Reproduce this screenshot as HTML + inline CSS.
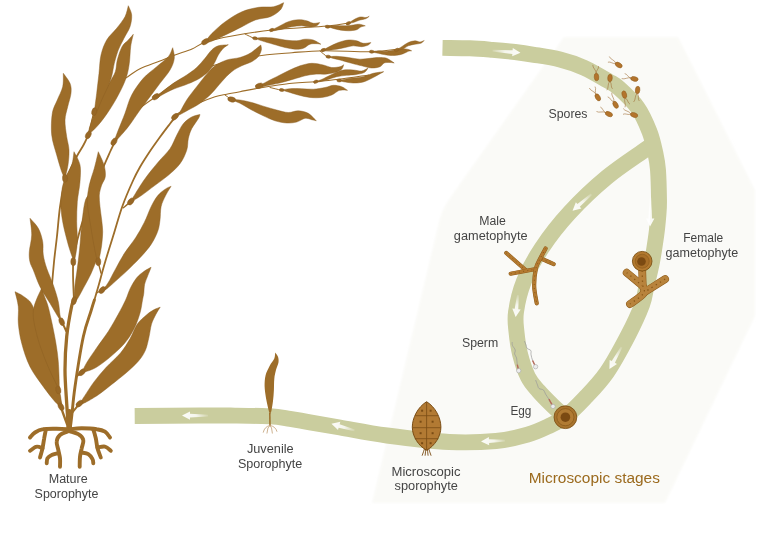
<!DOCTYPE html>
<html lang="en">
<head>
<meta charset="utf-8">
<title>Kelp life cycle</title>
<style>
html,body{margin:0;padding:0;background:#ffffff;}
body{width:768px;height:540px;overflow:hidden;}
svg{display:block;}
text{font-family:"Liberation Sans",sans-serif;}
</style>
</head>
<body>
<svg width="768" height="540" viewBox="0 0 768 540">
<rect width="768" height="540" fill="#ffffff"/>
<defs><filter id="soft" x="-5%" y="-5%" width="110%" height="110%"><feGaussianBlur stdDeviation="0.9"/></filter><filter id="soft2" x="-5%" y="-5%" width="110%" height="110%"><feGaussianBlur stdDeviation="0.7"/></filter></defs>
<path d="M564 37 L678 37 L755 190 L755 316 L665 503 L372 503 L439 222 Q442 209 450 198 Z" fill="#fafaf7" filter="url(#soft)"/>
<g fill="none" stroke="#cacd9e" stroke-width="15.9" stroke-linecap="butt" stroke-linejoin="round" filter="url(#soft2)">
<path d="M655 142C653.5 143.2 654.3 143 646.3 148.9C638.2 154.8 619.5 166.8 606.7 177.4C593.9 188 580.4 200.9 569.6 212.6C558.8 224.3 549.5 236.4 541.9 247.8C534.3 259.2 528.3 270.4 524 281.1C519.7 291.8 517.2 303.5 516 312C514.8 320.5 515.8 325 516.5 332C517.2 339 518.1 346.5 520 354C521.9 361.5 524.9 370.8 528 377C531.1 383.2 534.5 386.3 538.5 391C542.5 395.7 547.6 400.7 552 405C556.4 409.3 562.8 415 565 417"/>
<path d="M442.5 47.9C447.1 48 461.7 48 470 48.3C478.3 48.6 485 49.2 492.5 49.8C500 50.4 508.1 51.2 515 52C521.9 52.8 526.5 53.5 534 54.8C541.5 56 551.7 57.4 560 59.5C568.3 61.6 576 64.1 584 67.7C592 71.3 602.4 77.6 608.2 81C614 84.4 614.1 83.8 619 88.2C623.9 92.6 632.4 100.3 637.5 107.5C642.6 114.7 646.5 124 649.5 131.6C652.5 139.2 654 146.9 655.4 153.3C656.8 159.7 657.4 162.2 658 170C658.6 177.8 658.9 192.5 659 200C659.1 207.5 658.9 209.2 658.4 215C657.9 220.8 657.4 227.2 656.3 235C655.2 242.8 653.6 253.5 652 262C650.4 270.5 648.2 278.8 646.5 286C644.8 293.2 645.1 296.8 642 305C638.9 313.2 633.9 324.2 628 335.5C622.1 346.8 614 362.1 606.7 372.6C599.4 383.1 591.4 391.1 584.4 398.5C577.4 405.9 570.7 412.5 565 417C559.3 421.5 556.2 422.6 550 425.5C543.8 428.4 536.5 432.1 527.5 434.7C518.5 437.3 509.1 439.8 496 441C482.9 442.2 467.2 442.9 449 442C430.8 441.1 405.2 437.9 387 435.5C368.8 433.1 352.8 429.7 340 427.5C327.2 425.3 318.3 423.8 310 422.3C301.7 420.9 296.7 419.8 290 418.8C283.3 417.8 279.2 416.8 270 416.3C260.8 415.8 246.7 415.7 235 415.6C223.3 415.5 216.7 415.4 200 415.5C183.3 415.6 145.6 415.9 134.7 416"/>
</g>
<defs><linearGradient id="ag" x1="0" y1="0" x2="1" y2="0"><stop offset="0" stop-color="#fff" stop-opacity="0.15"/><stop offset="0.45" stop-color="#fff" stop-opacity="0.85"/><stop offset="1" stop-color="#fff" stop-opacity="1"/></linearGradient></defs>
<path d="M-14 -0.9 L6 -1.8 L6 -4.2 L14 0 L6 4.2 L6 1.8 L-14 0.9 Z" fill="url(#ag)" fill-opacity="0.95" transform="translate(506.5 51.7) rotate(4)"/>
<path d="M-12.5 -0.9 L4.5 -1.8 L4.5 -4.2 L12.5 0 L4.5 4.2 L4.5 1.8 L-12.5 0.9 Z" fill="url(#ag)" fill-opacity="0.95" transform="translate(582 202.5) rotate(139)"/>
<path d="M-14.5 -0.9 L6.5 -1.8 L6.5 -4.2 L14.5 0 L6.5 4.2 L6.5 1.8 L-14.5 0.9 Z" fill="url(#ag)" fill-opacity="0.95" transform="translate(650.3 212) rotate(91)"/>
<path d="M-12.5 -0.9 L4.5 -1.8 L4.5 -4.2 L12.5 0 L4.5 4.2 L4.5 1.8 L-12.5 0.9 Z" fill="url(#ag)" fill-opacity="0.95" transform="translate(615.5 358) rotate(119)"/>
<path d="M-11 -0.9 L3 -1.8 L3 -4.2 L11 0 L3 4.2 L3 1.8 L-11 0.9 Z" fill="url(#ag)" fill-opacity="0.95" transform="translate(516.8 306) rotate(96)"/>
<path d="M-12 -0.9 L4 -1.8 L4 -4.2 L12 0 L4 4.2 L4 1.8 L-12 0.9 Z" fill="url(#ag)" fill-opacity="0.95" transform="translate(493 441) rotate(178)"/>
<path d="M-12 -0.9 L4 -1.8 L4 -4.2 L12 0 L4 4.2 L4 1.8 L-12 0.9 Z" fill="url(#ag)" fill-opacity="0.95" transform="translate(343 427) rotate(196)"/>
<path d="M-13 -0.9 L5 -1.8 L5 -4.2 L13 0 L5 4.2 L5 1.8 L-13 0.9 Z" fill="url(#ag)" fill-opacity="0.95" transform="translate(195 415.6) rotate(180)"/>
<g id="kelp">
<path d="M52 285C52.3 281.2 53.2 270.2 54 262C54.8 253.8 56 245.2 57 236C58 226.8 58.8 215.3 60 207C61.2 198.7 62.3 192.2 64 186C65.7 179.8 67.8 175 70 170C72.2 165 74.8 160.2 77 156C79.2 151.8 81.6 148.5 83.5 145C85.4 141.5 87.5 136.7 88.3 135" fill="none" stroke="#9d6d29" stroke-width="1.8" stroke-linecap="round" stroke-linejoin="round"/>
<path d="M88.3 135C88.8 133.2 90 127.9 91 124C92 120.1 92.1 116.4 94.3 111.7C96.5 107 100.4 100.5 104 96C107.6 91.5 111.9 88.3 116 85C120.1 81.7 124.8 78.7 128.8 76C132.8 73.3 134.8 71.3 140 68.8C145.2 66.3 154.2 63.3 160 61C165.8 58.7 169.7 57 175 55C180.3 53 186.9 51.2 192 49C197.1 46.8 198.8 44.2 205.5 42C212.2 39.8 220.9 38 232 36C243.1 34 256.2 31.7 272 30C287.8 28.3 314.2 27.2 327 26C339.8 24.8 345.3 23.5 349 23" fill="none" stroke="#9d6d29" stroke-width="1.1" stroke-linecap="round" stroke-linejoin="round"/>
<path d="M74 301.7C73.9 295 72.3 273.6 73.3 261.7C74.3 249.8 77.2 240.3 80 230C82.8 219.7 86.2 210.3 90 200C93.8 189.7 99.7 176 103 168C106.3 160 108 156.4 110 152C112 147.6 114.2 143.4 115 141.7" fill="none" stroke="#9d6d29" stroke-width="1.8" stroke-linecap="round" stroke-linejoin="round"/>
<path d="M115 141.7C117.2 138.4 123.8 127.6 128 122C132.2 116.4 135.4 112.5 140 108.3C144.6 104.1 149.1 101.4 155.8 96.7C162.5 92 170.1 85.3 180 80C189.9 74.7 203 68.9 215 65C227 61.1 239.2 58.8 252 56.7C264.8 54.7 280.1 53.7 292 52.7C303.9 51.7 310.4 50.9 323.7 50.7C337 50.5 359.5 52 372 51.7C384.5 51.4 394.2 49.5 398.7 49" fill="none" stroke="#9d6d29" stroke-width="1.1" stroke-linecap="round" stroke-linejoin="round"/>
<path d="M94.4 300C95.2 297.4 97.2 290.3 98.9 284.4C100.6 278.5 102 272.5 104.4 264.4C106.8 256.3 110.3 245.2 113.3 235.6C116.3 226 118.9 216 122.2 206.7C125.5 197.4 130.3 186.6 133.3 180C136.3 173.4 137.5 171.4 140 167C142.5 162.6 145 158.7 148.3 153.7C151.6 148.7 156.4 142 160 137C163.6 132 167.4 127.1 170 123.7C172.6 120.3 174.8 117.9 175.7 116.7" fill="none" stroke="#9d6d29" stroke-width="1.8" stroke-linecap="round" stroke-linejoin="round"/>
<path d="M175.7 116.7C176.1 116.1 174.5 115.5 178.3 113.3C182.1 111.1 192.2 106.1 198.3 103.3C204.4 100.5 210.3 98.2 215 96.7C219.7 95.2 222.5 95 226.7 94.2C230.9 93.4 235 92.7 240 91.7C245 90.8 248 89.9 256.7 88.5C265.4 87.1 282.2 84.4 292 83.3C301.8 82.2 307.5 82.4 315.3 81.7C323.1 81 329.8 80.4 338.7 79.3C347.6 78.2 363.7 75.7 368.7 75" fill="none" stroke="#9d6d29" stroke-width="1.1" stroke-linecap="round" stroke-linejoin="round"/>
<path d="M123.3 207.8C124.5 206.8 129.6 202.6 130.8 201.5" fill="none" stroke="#9d6d29" stroke-width="1.4" stroke-linecap="round" stroke-linejoin="round"/>
<path d="M101 273C100.5 271.2 98.7 264 98.2 262.2" fill="none" stroke="#9d6d29" stroke-width="1.4" stroke-linecap="round" stroke-linejoin="round"/>
<path d="M96.5 293C97.5 292.5 101.2 290.5 102.2 290" fill="none" stroke="#9d6d29" stroke-width="1.4" stroke-linecap="round" stroke-linejoin="round"/>
<path d="M225 95C226 95.7 229.8 98.5 230.8 99.2" fill="none" stroke="#9d6d29" stroke-width="1" stroke-linecap="round" stroke-linejoin="round"/>
<path d="M270 87.5C271.7 87.9 278.6 89.6 280.3 90" fill="none" stroke="#9d6d29" stroke-width="1" stroke-linecap="round" stroke-linejoin="round"/>
<path d="M245 34C246.4 34.7 252.2 37.6 253.7 38.3" fill="none" stroke="#9d6d29" stroke-width="1" stroke-linecap="round" stroke-linejoin="round"/>
<path d="M320 51C321.2 52 325.8 55.8 327 56.7" fill="none" stroke="#9d6d29" stroke-width="1" stroke-linecap="round" stroke-linejoin="round"/>
<path d="M258.7 86C258.2 86.4 256.4 88.1 256 88.5" fill="none" stroke="#9d6d29" stroke-width="1" stroke-linecap="round" stroke-linejoin="round"/>
<path d="M68.5 430C68.2 425.6 67.3 413.3 66.7 403.3C66.1 393.3 65 381.1 65 370C65 358.9 65.6 347.4 66.7 336.7C67.8 326 70.5 311.8 71.7 306C72.9 300.2 73.6 302.4 74 301.7" fill="none" stroke="#9d6d29" stroke-width="3.3" stroke-linecap="round" stroke-linejoin="round"/>
<path d="M70 430C70.3 427.8 70.9 423.9 71.7 416.7C72.5 409.5 73.1 400 75 386.7C76.9 373.4 80.6 349.3 83.3 336.7C86 324.1 89.2 317.1 91 311C92.8 304.9 93.8 301.8 94.4 300" fill="none" stroke="#9d6d29" stroke-width="2.9" stroke-linecap="round" stroke-linejoin="round"/>
<path d="M67 424C66 421.1 62.5 412.4 61 406.7C59.5 401 58.8 392.8 58.3 390" fill="none" stroke="#9d6d29" stroke-width="2.4" stroke-linecap="round" stroke-linejoin="round"/>
<path d="M77 376C77.8 375.4 81.1 372.9 81.9 372.3" fill="none" stroke="#9d6d29" stroke-width="2" stroke-linecap="round" stroke-linejoin="round"/>
<path d="M71 414C72.4 412.3 78.1 405.3 79.5 403.6" fill="none" stroke="#9d6d29" stroke-width="2" stroke-linecap="round" stroke-linejoin="round"/>
<path d="M66.2 331C65.5 329.4 62.5 323.2 61.7 321.7" fill="none" stroke="#9d6d29" stroke-width="2" stroke-linecap="round" stroke-linejoin="round"/>
<path d="M69.2 411.7C69.2 414.7 69.2 426.9 69.2 430" fill="none" stroke="#9d6d29" stroke-width="5.5" stroke-linecap="round" stroke-linejoin="round"/>
<path d="M68.3 429.2C66.4 429.1 60.8 428.7 56.7 428.7C52.5 428.7 46.9 428.5 43.3 429.2C39.7 429.8 37.2 431.1 35 432.5C32.8 433.9 30.8 436.7 30 437.5" fill="none" stroke="#9d6d29" stroke-width="3.9" stroke-linecap="round" stroke-linejoin="round"/>
<path d="M45.8 429.7C45.6 431.1 44.7 435.2 44.2 438.3C43.6 441.4 43.2 445.1 42.5 448.3C41.8 451.5 40.4 456 40 457.5" fill="none" stroke="#9d6d29" stroke-width="3.9" stroke-linecap="round" stroke-linejoin="round"/>
<path d="M42.5 448.3C41.5 448.1 38.8 446.2 36.7 446.7C34.6 447.1 31.1 450.1 30 450.8" fill="none" stroke="#9d6d29" stroke-width="3.9" stroke-linecap="round" stroke-linejoin="round"/>
<path d="M68.3 431.3C66.9 431.9 61.9 433.3 60 435C58.1 436.7 56.9 439.2 56.7 441.7C56.4 444.2 57.8 447.2 58.3 450C58.9 452.8 59.7 455.6 60 458.3C60.3 461.1 60 465.3 60 466.7" fill="none" stroke="#9d6d29" stroke-width="3.9" stroke-linecap="round" stroke-linejoin="round"/>
<path d="M57.5 453.3C56.5 453.6 53.3 454.2 51.7 455C50 455.8 48.3 456.9 47.5 458.3C46.7 459.7 46.8 462.5 46.7 463.3" fill="none" stroke="#9d6d29" stroke-width="3.9" stroke-linecap="round" stroke-linejoin="round"/>
<path d="M70 431.3C71.4 431.8 76.1 432.7 78.3 434.2C80.6 435.6 82.8 437.6 83.3 440C83.9 442.4 82.2 445.6 81.7 448.3C81.1 451.1 80.3 453.6 80 456.7C79.7 459.7 79.7 465 79.7 466.7" fill="none" stroke="#9d6d29" stroke-width="3.9" stroke-linecap="round" stroke-linejoin="round"/>
<path d="M81.7 452.5C82.8 452.8 86.5 453.1 88.3 454.2C90.1 455.3 91.7 457.6 92.5 459.2C93.3 460.7 93.2 462.6 93.3 463.3" fill="none" stroke="#9d6d29" stroke-width="3.9" stroke-linecap="round" stroke-linejoin="round"/>
<path d="M70 429.2C71.9 429 77.2 428.3 81.7 428.3C86.1 428.3 92.8 428.6 96.7 429.2C100.6 429.7 102.8 430.3 105 431.7C107.2 433.1 109.2 436.5 110 437.5" fill="none" stroke="#9d6d29" stroke-width="3.9" stroke-linecap="round" stroke-linejoin="round"/>
<path d="M93.3 429.7C93.8 431.1 95.1 435.2 95.8 438.3C96.5 441.4 96.7 445.1 97.5 448.3C98.3 451.5 100.3 456 100.8 457.5" fill="none" stroke="#9d6d29" stroke-width="3.9" stroke-linecap="round" stroke-linejoin="round"/>
<path d="M97.5 447.5C98.8 447.4 102.8 446.1 105 446.7C107.2 447.2 109.9 450.1 110.8 450.8" fill="none" stroke="#9d6d29" stroke-width="3.9" stroke-linecap="round" stroke-linejoin="round"/>
<path d="M61 406.7C60 405.8 57.9 405 55 401.7C52.1 398.3 47.5 392.5 43.3 386.7C39.2 380.8 33.6 373.9 30 366.7C26.4 359.4 23.6 350.6 21.7 343.3C19.7 336.1 18.9 329.4 18.3 323.3C17.8 317.2 18.9 311.9 18.3 306.7C17.8 301.4 15.6 294.2 15 291.7C16.5 292.5 21.1 294.3 24 296.7C26.9 299.1 29.9 299.9 32.7 306C35.4 312.1 37.8 323.8 40.7 333.3C43.6 342.9 47.1 354.4 50 363.3C52.9 372.2 56.4 380 58.3 386.7C60.3 393.3 61.2 400 61.7 403.3C62.1 406.7 61.1 406.1 61 406.7Z" fill="#9d6d29" stroke="#8a5f22" stroke-width="0.45" stroke-linejoin="round"/>
<path d="M58.3 390C58.1 389.2 58.6 389.4 56.7 385C54.7 380.6 49.9 371.4 46.7 363.3C43.4 355.3 39.6 345.4 37.3 336.7C35.1 327.9 32.6 318.9 33.3 310.7C34.1 302.4 40.6 291.2 42 287.3C42.3 288.6 43.1 292.1 44 295C44.9 297.9 46.4 300.8 47.7 305C48.9 309.2 50 313.8 51.3 320C52.7 326.2 54.5 335.1 55.7 342C56.8 348.9 57.7 354.2 58.3 361.7C58.9 369.1 59.3 381.9 59.3 386.7C59.3 391.4 58.5 389.4 58.3 390Z" fill="#9d6d29" stroke="#8a5f22" stroke-width="0.45" stroke-linejoin="round"/>
<path d="M61.7 321.7C61.4 321.4 62 323.1 60 320C58 316.9 53.3 308.9 50 303.3C46.7 297.8 42.8 292.2 40 286.7C37.2 281.1 35 274.1 33.3 270C31.6 265.9 30.7 265.1 30 262C29.3 258.9 29 256.2 29.3 251.7C29.6 247.2 31.6 240.6 31.7 235C31.8 229.4 30.3 221.1 30 218.3C31.4 220 36.2 224.4 38.3 228.3C40.4 232.2 41.9 237.2 42.7 241.7C43.5 246.1 42.6 250.6 43.3 255C44 259.4 45 263.3 46.7 268.3C48.4 273.3 51.4 279.4 53.3 285C55.2 290.6 57.2 296.7 58.3 301.7C59.4 306.7 59.4 311.7 60 315C60.6 318.3 61.4 320.6 61.7 321.7Z" fill="#9d6d29" stroke="#8a5f22" stroke-width="0.45" stroke-linejoin="round"/>
<path d="M65 178.3C64.5 177.2 63.1 175.6 61.7 171.7C60.3 167.8 58.4 161.1 56.7 155C55 148.9 52.4 141.9 51.7 135C51 128.1 51.4 119.1 52.3 113.3C53.2 107.5 55.6 104.4 57.3 100C59 95.6 61.7 91.2 62.7 86.7C63.7 82.2 63.2 75.5 63.3 73.3C64.4 75 68.7 80 70 83.3C71.3 86.6 71.4 89.4 71 93.3C70.6 97.2 68.7 102.2 67.7 106.7C66.7 111.2 65.2 115 65 120C64.8 125 66 131.7 66.7 136.7C67.4 141.7 68.8 145.3 69 150C69.2 154.7 68.7 160.3 68 165C67.3 169.7 65.5 176.1 65 178.3Z" fill="#9d6d29" stroke="#8a5f22" stroke-width="0.45" stroke-linejoin="round"/>
<path d="M73.3 261.7C73.2 261.1 73.5 261.1 72.7 258.3C71.8 255.6 69.9 250.6 68.3 245C66.8 239.4 64.6 231.1 63.3 225C62.1 218.9 61.3 213.9 61 208.3C60.7 202.8 61 196.7 61.7 191.7C62.3 186.7 63.3 182.8 65 178.3C66.7 173.9 70.2 169.4 71.7 165C73.2 160.6 73.6 153.9 74 151.7C75 153.9 79 160 80 165C81 170 80.4 175.6 80 181.7C79.6 187.8 77.9 195 77.3 201.7C76.8 208.3 76.7 215 76.7 221.7C76.7 228.3 77.6 235.6 77.3 241.7C77.1 247.8 75.7 255 75 258.3C74.3 261.7 73.6 261.1 73.3 261.7Z" fill="#9d6d29" stroke="#8a5f22" stroke-width="0.45" stroke-linejoin="round"/>
<path d="M74 300.7C74.2 298.1 74.4 290.4 75 285C75.6 279.6 76.5 275 77.3 268.3C78.2 261.7 79.3 252.2 80 245C80.7 237.8 80.8 232.2 81.7 225C82.5 217.8 83.6 206.9 85 201.7C86.4 196.4 89.2 194.7 90 193.3C90.8 195.8 93.3 199.7 95 208.3C96.7 216.9 100.3 235 100 245C99.7 255 96.1 261.1 93.3 268.3C90.6 275.6 86.1 283.1 83.3 288.3C80.6 293.6 78.2 297.9 76.7 300C75.1 302.1 74.4 300.6 74 300.7Z" fill="#9d6d29" stroke="#8a5f22" stroke-width="0.45" stroke-linejoin="round"/>
<path d="M98.3 261.7C98.1 261.1 97.5 261.7 96.7 258.3C95.8 255 94.4 247.8 93.3 241.7C92.2 235.6 91 228.3 90 221.7C89 215 87.4 207.8 87.3 201.7C87.2 195.6 88.2 190.6 89.3 185C90.5 179.4 92.8 173.9 94.3 168.3C95.8 162.8 97.7 154.4 98.3 151.7C99.3 153.9 102.8 160.8 104 165C105.2 169.2 105.7 173.3 105.3 176.7C104.9 180 102.7 181.9 101.7 185C100.7 188.1 99.6 191.4 99.3 195C99.1 198.6 99.6 202.5 100 206.7C100.4 210.8 101.2 215.8 101.7 220C102.1 224.2 102.7 227.5 102.7 231.7C102.7 235.8 102.2 240.6 101.7 245C101.1 249.4 99.9 255.6 99.3 258.3C98.8 261.1 98.5 261.1 98.3 261.7Z" fill="#9d6d29" stroke="#8a5f22" stroke-width="0.45" stroke-linejoin="round"/>
<path d="M102.2 290C103.1 288.9 105.6 286.9 107.8 283.3C110 279.8 112.8 273.9 115.6 268.9C118.3 263.9 121.1 258.5 124.4 253.3C127.8 248.1 132.2 243 135.6 237.8C138.9 232.6 141.9 227.4 144.4 222.2C147 217 148.9 211.1 151.1 206.7C153.3 202.2 155.4 198.5 157.8 195.6C160.2 192.6 163.3 190.4 165.6 188.9C167.8 187.3 170.2 186.7 171.1 186.2C170.2 187.8 167.2 192.1 165.6 195.6C163.9 199 162 202.6 161.1 206.7C160.2 210.7 160.6 215.9 160 220C159.4 224.1 159.3 227 157.8 231.1C156.3 235.2 154.1 240 151.1 244.4C148.1 248.9 144.1 253.3 140 257.8C135.9 262.2 130.7 267.2 126.7 271.1C122.6 275 118.9 278.1 115.6 281.1C112.2 284.1 108.9 287.4 106.7 288.9C104.4 290.4 103 289.8 102.2 290Z" fill="#9d6d29" stroke="#8a5f22" stroke-width="0.45" stroke-linejoin="round"/>
<path d="M81.9 372.3C82.7 370.7 84.3 366.7 86.7 362.7C89.1 358.7 92.8 353.4 96.4 348.2C100 343 104.8 336.9 108.4 331.3C112 325.7 115.2 319.7 118.1 314.5C121 309.3 123.6 304.3 125.6 300C127.6 295.7 128.2 292.6 130 288.9C131.8 285.2 134.3 280.8 136.7 277.8C139.1 274.8 142 272.9 144.4 271.1C146.8 269.4 150 267.9 151.1 267.3C150.6 268.7 148.9 272.8 147.8 275.6C146.7 278.5 145.3 281.4 144.6 284.4C143.9 287.3 144.2 290.7 143.8 293.3C143.5 295.9 143.1 296.7 142.5 300C141.9 303.3 141.4 308.2 140 313C138.6 317.8 136.7 323.8 134 329C131.3 334.2 128.2 339.2 124 344C119.8 348.8 113.7 354.1 109 358C104.3 361.9 99.9 365.2 96 367.5C92.1 369.8 87.8 371 85.5 371.8C83.2 372.6 82.5 372.2 81.9 372.3Z" fill="#9d6d29" stroke="#8a5f22" stroke-width="0.45" stroke-linejoin="round"/>
<path d="M79.5 403.6C80.3 402.4 81.9 400 84.3 396.4C86.7 392.8 90.4 386.7 94 381.9C97.6 377.1 101.6 372.3 106 367.5C110.4 362.7 116.5 357.8 120.5 353C124.5 348.2 127.3 343.4 130.1 338.6C132.9 333.8 134.5 328.1 137.3 324.1C140.1 320.1 144.2 316.9 147 314.5C149.8 312.1 152 310.8 154.2 309.6C156.4 308.4 159.2 307.6 160.2 307.2C159.5 308.4 157.2 311.7 155.8 314.5C154.4 317.3 152.6 320.4 151.5 324.1C150.4 327.9 150 332.7 149 337C148 341.3 147.2 346 145.5 350C143.8 354 141.8 357.2 138.5 361C135.2 364.8 130.6 369 126 373C121.4 377 115.7 381.3 111 385C106.3 388.7 102.5 392 98 395C93.5 398 87.4 401.6 84.3 403C81.2 404.4 80.3 403.5 79.5 403.6Z" fill="#9d6d29" stroke="#8a5f22" stroke-width="0.45" stroke-linejoin="round"/>
<path d="M88.3 135C88.5 133.9 88.3 131.9 89.3 128.3C90.3 124.7 92.3 118.6 94.3 113.3C96.4 108.1 99.1 101.9 101.7 96.7C104.3 91.4 107.7 85.8 110 81.7C112.3 77.5 114.1 75.3 115.3 71.7C116.6 68.1 116.2 64.2 117.3 60C118.4 55.8 120.2 50 122 46.7C123.8 43.3 126.4 42.1 128.3 40C130.2 37.9 132.5 35.3 133.3 34.3C132.9 36.4 131.3 41.8 130.7 46.7C130 51.5 130.1 58.1 129.3 63.3C128.6 68.6 127.8 73.1 126 78.3C124.2 83.6 121.3 89.4 118.3 95C115.4 100.6 111.7 106.7 108.3 111.7C105 116.7 101.4 121.4 98.3 125C95.3 128.6 91.7 131.7 90 133.3C88.3 135 88.6 134.7 88.3 135Z" fill="#9d6d29" stroke="#8a5f22" stroke-width="0.45" stroke-linejoin="round"/>
<path d="M94.3 111.7C94.7 108.6 95.9 99.7 96.7 93.3C97.4 86.9 98.3 79.7 99 73.3C99.7 66.9 99.7 60.6 101 55C102.3 49.4 104.1 44.4 106.7 40C109.3 35.6 113.6 32.2 116.7 28.3C119.7 24.4 123.1 20.4 125 16.7C126.9 12.9 127.8 7.5 128.3 5.7C128.9 7.2 131.4 11.5 131.7 15C131.9 18.5 131.3 22.8 130 26.7C128.7 30.6 125.9 34.4 124 38.3C122.1 42.2 119.9 45.8 118.3 50C116.7 54.2 115.4 59.2 114.3 63.3C113.3 67.5 112.9 71.4 112 75C111.1 78.6 110.4 80.8 108.7 85C106.9 89.2 103.7 95.6 101.7 100C99.7 104.4 97.9 109.7 96.7 111.7C95.4 113.6 94.7 111.7 94.3 111.7Z" fill="#9d6d29" stroke="#8a5f22" stroke-width="0.45" stroke-linejoin="round"/>
<path d="M114 141.7C114.7 139.7 116.5 134.7 118.3 130C120.2 125.3 122.8 119.2 125 113.3C127.2 107.5 128.6 100.8 131.7 95C134.7 89.2 139.2 83.1 143.3 78.3C147.5 73.6 152.5 70.3 156.7 66.7C160.8 63.1 165.7 59.8 168.3 56.7C171 53.5 171.9 49.2 172.7 47.7C172.9 49.4 174.8 54.6 174.3 58.3C173.9 62.1 172.4 65.8 170 70C167.6 74.2 163.3 78.9 160 83.3C156.7 87.8 153.3 92.2 150 96.7C146.7 101.1 143.6 105 140 110C136.4 115 132.2 121.7 128.3 126.7C124.4 131.7 119.1 137.5 116.7 140C114.3 142.5 114.4 141.4 114 141.7Z" fill="#9d6d29" stroke="#8a5f22" stroke-width="0.45" stroke-linejoin="round"/>
<path d="M155.8 96.7C156.8 96 158.8 94.7 161.7 92.5C164.6 90.3 169.2 86.3 173.3 83.3C177.5 80.4 182.8 77.6 186.7 75C190.6 72.4 193.6 70.3 196.7 67.5C199.7 64.7 202.5 61.2 205 58.3C207.5 55.4 209.4 52.1 211.7 50C213.9 47.9 215.6 46.7 218.3 45.8C221.1 44.9 226.7 44.9 228.3 44.7C227.5 45.3 225 46.6 223.3 48.3C221.7 50.1 220 52.2 218.3 55C216.7 57.8 215.3 61.9 213.3 65C211.4 68.1 209.4 70.8 206.7 73.3C203.9 75.8 200.3 78.1 196.7 80C193.1 81.9 188.9 83.5 185 85C181.1 86.5 176.9 87.6 173.3 89.2C169.7 90.7 166 92.8 163.3 94.2C160.7 95.6 158.8 97.1 157.5 97.5C156.2 97.9 156.1 96.8 155.8 96.7Z" fill="#9d6d29" stroke="#8a5f22" stroke-width="0.45" stroke-linejoin="round"/>
<path d="M175 116.7C175.8 115.8 178.1 114.4 180 111.7C181.9 108.9 183.9 104.2 186.7 100C189.4 95.8 193.3 91 196.7 86.7C200 82.4 203.6 77.6 206.7 74.2C209.7 70.7 211.7 68.2 215 65.8C218.3 63.5 222.5 61.4 226.7 60C230.8 58.6 236.1 58.6 240 57.5C243.9 56.4 247.2 54.9 250 53.3C252.8 51.8 254.9 49.7 256.7 48.3C258.5 46.9 260.1 45.6 260.8 45C260.9 45.8 261.8 48.1 261.3 50C260.9 51.9 259.9 54.7 258.3 56.7C256.7 58.6 254.4 60.1 251.7 61.7C248.9 63.2 245 64.2 241.7 65.8C238.3 67.5 235 69 231.7 71.7C228.3 74.3 225 78.1 221.7 81.7C218.3 85.3 215.3 89.7 211.7 93.3C208.1 96.9 203.9 100.6 200 103.3C196.1 106.1 191.8 108.1 188.3 110C184.9 111.9 181.4 113.9 179.2 115C176.9 116.1 175.7 116.4 175 116.7Z" fill="#9d6d29" stroke="#8a5f22" stroke-width="0.45" stroke-linejoin="round"/>
<path d="M130.8 201.5C131.2 200.8 130.9 200.8 133.3 197C135.7 193.2 140.8 184.5 145 178.7C149.2 172.9 154.1 167 158.3 162C162.5 157 166.9 153.1 170 148.7C173.1 144.2 174.5 139.5 176.7 135.3C178.9 131.1 180.8 126.8 183.3 123.7C185.8 120.7 188.9 118.5 191.7 117C194.5 115.5 198.6 114.9 200 114.5C199.7 115.2 199.7 116.3 198.3 118.7C196.9 121.1 193.4 125.4 191.7 128.7C190 132 189.1 135.1 188.3 138.7C187.5 142.3 188.1 146.1 186.7 150.3C185.3 154.5 183.1 159.5 180 163.7C176.9 167.9 172.5 171.7 168.3 175.3C164.1 178.9 159.4 182 155 185.3C150.6 188.6 145.3 192.8 141.7 195.3C138.1 197.8 135.1 199.5 133.3 200.5C131.5 201.5 131.2 201.3 130.8 201.5Z" fill="#9d6d29" stroke="#8a5f22" stroke-width="0.45" stroke-linejoin="round"/>
<path d="M205.3 41.7C206.4 40.3 208.7 36.7 212 33.3C215.3 30 220.3 25.3 225.3 21.7C230.3 18.1 236.4 14.1 242 11.7C247.6 9.3 253.4 8.2 258.7 7.3C263.9 6.5 269.5 7.4 273.7 6.7C277.8 5.9 282 3.3 283.7 2.7C283.1 3.9 282.6 7.7 280.3 10C278.1 12.3 274.5 15 270.3 16.7C266.2 18.3 260.1 18.3 255.3 20C250.6 21.7 247 24.2 242 26.7C237 29.2 230.6 32.5 225.3 35C220.1 37.5 213.7 40.6 210.3 41.7C207 42.8 206.2 41.7 205.3 41.7Z" fill="#9d6d29" stroke="#8a5f22" stroke-width="0.45" stroke-linejoin="round"/>
<path d="M271.7 30C272.8 29.4 275.6 28.1 278.3 26.7C281.1 25.3 285 22.8 288.3 21.7C291.7 20.5 295.3 19.8 298.3 19.7C301.4 19.5 304.2 20.2 306.7 20.8C309.2 21.4 311.2 23.1 313.3 23.3C315.5 23.6 318.6 22.6 319.7 22.5C319.2 23.1 318.3 25.1 316.7 25.8C315.1 26.6 312.5 27 310 27C307.5 27 304.7 25.9 301.7 25.8C298.6 25.8 295 26.1 291.7 26.7C288.3 27.2 284.7 28.5 281.7 29.2C278.6 29.9 275 30.7 273.3 30.8C271.7 31 271.9 30.1 271.7 30Z" fill="#9d6d29" stroke="#8a5f22" stroke-width="0.45" stroke-linejoin="round"/>
<path d="M327.5 26.7C328.8 26.5 332.1 25.6 335 25.5C337.9 25.4 341.9 25.9 345 25.8C348.1 25.8 351 25.3 353.3 25C355.7 24.7 357.2 24 359.2 24.2C361.2 24.3 364.3 25.6 365.3 25.8C364.6 26 362.3 26.4 360.8 27C359.4 27.6 358.8 29 356.7 29.7C354.6 30.3 351.4 30.8 348.3 30.8C345.3 30.8 341.2 30.2 338.3 29.7C335.4 29.1 332.6 28.2 330.8 27.7C329 27.2 328.1 26.8 327.5 26.7Z" fill="#9d6d29" stroke="#8a5f22" stroke-width="0.45" stroke-linejoin="round"/>
<path d="M348.3 23.3C349.2 22.8 351.4 21.1 353.3 20C355.3 18.9 357.9 17.4 360 17C362.1 16.6 364.3 17.6 365.8 17.5C367.4 17.4 368.6 16.5 369.2 16.3C368.6 16.7 367.4 18.1 365.8 18.7C364.3 19.3 362.1 19.4 360 20C357.9 20.6 355.3 21.9 353.3 22.5C351.4 23.1 349.2 23.2 348.3 23.3Z" fill="#9d6d29" stroke="#8a5f22" stroke-width="0.45" stroke-linejoin="round"/>
<path d="M255 38.3C256.1 38.2 258.6 37.6 261.7 37.5C264.7 37.4 269.4 37.6 273.3 38C277.2 38.4 281.1 39.5 285 40C288.9 40.5 293.3 41 296.7 40.8C300 40.7 302.2 39.3 305 39.2C307.8 39 310.7 39.2 313.3 40C316 40.8 319.6 43.5 320.8 44.2C320.1 44.1 318.5 43.7 316.7 43.7C314.9 43.7 312.2 43.4 310 44.2C307.8 44.9 305.8 47.5 303.3 48.3C300.8 49.2 298.1 49.3 295 49.2C291.9 49 288.6 48.3 285 47.5C281.4 46.7 277.2 45.3 273.3 44.2C269.4 43.1 264.7 41.8 261.7 40.8C258.6 39.9 256.1 38.8 255 38.3Z" fill="#9d6d29" stroke="#8a5f22" stroke-width="0.45" stroke-linejoin="round"/>
<path d="M323.3 50C324.4 49.4 327.5 47.6 330 46.3C332.5 45.1 335.3 43.6 338.3 42.5C341.4 41.4 345.3 40.3 348.3 40C351.4 39.7 354.2 40.3 356.7 40.8C359.2 41.4 361 43.1 363.3 43.3C365.7 43.6 369.6 42.6 370.8 42.5C370.4 42.9 369.9 44.3 368.3 45C366.8 45.7 364.2 46.5 361.7 46.7C359.2 46.8 356.1 45.7 353.3 45.8C350.6 46 347.8 46.9 345 47.5C342.2 48.1 339.7 48.7 336.7 49.2C333.6 49.6 328.9 50.2 326.7 50.3C324.4 50.5 323.9 50.1 323.3 50Z" fill="#9d6d29" stroke="#8a5f22" stroke-width="0.45" stroke-linejoin="round"/>
<path d="M371.7 51.7C372.8 51.5 375.8 50.9 378.3 50.8C380.8 50.8 383.9 51.5 386.7 51.3C389.4 51.2 392.5 50.4 395 50C397.5 49.6 399.6 48.8 401.7 48.7C403.8 48.5 405.8 48.8 407.5 49.2C409.2 49.5 411 50.6 411.7 50.8C411.1 50.9 409.7 50.9 408.3 51.3C406.9 51.8 405.3 53 403.3 53.7C401.4 54.3 399.2 55.1 396.7 55.3C394.2 55.6 391.1 55.6 388.3 55.3C385.6 55.1 382.4 54.1 380 53.7C377.6 53.2 375.6 52.8 374.2 52.5C372.8 52.2 372.1 51.8 371.7 51.7Z" fill="#9d6d29" stroke="#8a5f22" stroke-width="0.45" stroke-linejoin="round"/>
<path d="M396.7 50C397.5 49.4 399.7 47.9 401.7 46.7C403.6 45.4 406.1 43.5 408.3 42.5C410.6 41.5 413.1 40.9 415 40.8C416.9 40.7 418.5 42.1 420 42C421.5 41.9 423.5 40.8 424.2 40.5C423.6 41 422.4 42.7 420.8 43.3C419.3 43.9 417.1 43.8 415 44.2C412.9 44.6 410.4 45 408.3 45.8C406.2 46.7 404.4 48.5 402.5 49.2C400.6 49.9 397.6 49.9 396.7 50Z" fill="#9d6d29" stroke="#8a5f22" stroke-width="0.45" stroke-linejoin="round"/>
<path d="M328.3 56.7C329.7 56.6 333.3 56.2 336.7 56.3C340 56.5 344.4 57 348.3 57.5C352.2 58 356.4 59 360 59.2C363.6 59.3 366.9 58.6 370 58.3C373.1 58.1 375.6 57.5 378.3 57.5C381.1 57.5 384 57.4 386.7 58.3C389.3 59.2 392.9 62.2 394.2 63C393.5 62.9 391.7 62.5 390 62.5C388.3 62.5 385.8 62.3 384.2 63C382.5 63.7 382.1 65.8 380 66.7C377.9 67.5 374.7 68.1 371.7 68C368.6 67.9 365 66.6 361.7 65.8C358.3 65.1 355.3 64.3 351.7 63.3C348.1 62.4 343.3 60.9 340 60C336.7 59.1 333.6 58.6 331.7 58C329.7 57.4 328.9 56.9 328.3 56.7Z" fill="#9d6d29" stroke="#8a5f22" stroke-width="0.45" stroke-linejoin="round"/>
<path d="M259.2 85.8C260.4 85.1 263.8 83.2 266.7 81.7C269.6 80.1 273.1 78.5 276.7 76.7C280.3 74.9 284.4 72.6 288.3 70.8C292.2 69 296.1 67.1 300 65.8C303.9 64.6 307.8 63.5 311.7 63.3C315.6 63.2 320 64.3 323.3 65C326.7 65.7 328.9 67.2 331.7 67.5C334.4 67.8 338 67.1 340 66.7C342 66.2 343.1 65 343.7 64.7C343.3 65.4 343.1 67.9 341.7 69.2C340.2 70.5 337.8 71.7 335 72.5C332.2 73.3 328.3 73.9 325 74.2C321.7 74.4 318.3 73.9 315 74.2C311.7 74.4 308.6 75 305 75.8C301.4 76.7 297.2 78.1 293.3 79.2C289.4 80.3 285.6 81.5 281.7 82.5C277.8 83.5 273.2 84.3 270 85C266.8 85.7 264.3 86.5 262.5 86.7C260.7 86.8 259.7 86 259.2 85.8Z" fill="#9d6d29" stroke="#8a5f22" stroke-width="0.45" stroke-linejoin="round"/>
<path d="M315.8 81.7C317.1 81.2 320.4 80 323.3 78.7C326.2 77.3 330 75.1 333.3 73.7C336.7 72.2 340 70.6 343.3 70C346.7 69.4 350.3 69.8 353.3 70C356.4 70.2 359.2 71.3 361.7 71C364.1 70.7 366.9 68.5 368 68C367.4 68.8 366.3 71.4 364.2 72.5C362 73.6 357.9 74.2 355 74.7C352.1 75.1 349.7 75 346.7 75.3C343.6 75.7 340 75.9 336.7 76.7C333.3 77.4 329.7 79.1 326.7 80C323.6 80.9 320.1 81.7 318.3 82C316.5 82.3 316.2 81.7 315.8 81.7Z" fill="#9d6d29" stroke="#8a5f22" stroke-width="0.45" stroke-linejoin="round"/>
<path d="M339.2 80.5C341 80.1 346 79 350 78.3C354 77.7 359.4 77.5 363.3 76.7C367.2 75.8 369.9 74.2 373.3 73.3C376.7 72.5 381.9 71.9 383.7 71.7C382.9 72.1 381.2 73.1 379.2 74.2C377.2 75.3 374.3 77 371.7 78.3C369 79.6 366.4 81.2 363.3 82C360.3 82.8 356.7 83.1 353.3 83C350 82.9 345.7 82.1 343.3 81.7C341 81.2 339.9 80.7 339.2 80.5Z" fill="#9d6d29" stroke="#8a5f22" stroke-width="0.45" stroke-linejoin="round"/>
<path d="M281.7 90C283.1 89.8 286.7 88.9 290 88.7C293.3 88.4 297.8 88.6 301.7 88.7C305.6 88.8 309.4 89.4 313.3 89.2C317.2 89 321.7 88.1 325 87.5C328.3 86.9 330.6 85.5 333.3 85.3C336.1 85.2 339.3 85.8 341.7 86.7C344 87.5 346.5 89.7 347.5 90.3C346.8 90.3 344.9 89.9 343.3 90C341.8 90.1 340.3 90 338.3 90.8C336.4 91.7 334.4 93.9 331.7 95C328.9 96.1 325.3 97.1 321.7 97.5C318.1 97.9 313.9 97.9 310 97.5C306.1 97.1 301.9 95.9 298.3 95C294.7 94.1 291.1 92.8 288.3 92C285.6 91.2 282.8 90.3 281.7 90Z" fill="#9d6d29" stroke="#8a5f22" stroke-width="0.45" stroke-linejoin="round"/>
<path d="M231.7 99.5C233.1 99.6 236.7 99.5 240 100C243.3 100.5 247.5 101.4 251.7 102.5C255.8 103.6 260.8 105.4 265 106.7C269.2 107.9 272.8 109 276.7 110C280.6 111 284.7 112.4 288.3 112.5C291.9 112.6 295 110.7 298.3 110.8C301.7 111 305.3 111.7 308.3 113.3C311.3 115 315 119.6 316.3 120.8C315.6 120.6 313.6 120.1 311.7 119.7C309.8 119.2 307.5 117.9 305 118.3C302.5 118.7 299.7 121.2 296.7 122C293.6 122.8 290.3 123.2 286.7 123C283.1 122.8 278.9 122 275 120.8C271.1 119.6 267.2 117.6 263.3 115.8C259.4 114 255.3 111.9 251.7 110C248.1 108.1 244.6 105.7 241.7 104.2C238.8 102.6 235.8 101.6 234.2 100.8C232.5 100.1 232.1 99.7 231.7 99.5Z" fill="#9d6d29" stroke="#8a5f22" stroke-width="0.45" stroke-linejoin="round"/>
<ellipse cx="61" cy="406.7" rx="4.0" ry="2.5" fill="#976726" stroke="#8f5f1f" stroke-width="0.5" transform="rotate(-116.9 61 406.7)"/>
<ellipse cx="58.3" cy="390" rx="4.0" ry="2.5" fill="#976726" stroke="#8f5f1f" stroke-width="0.5" transform="rotate(-102 58.3 390)"/>
<ellipse cx="61.7" cy="321.7" rx="4.0" ry="2.5" fill="#976726" stroke="#8f5f1f" stroke-width="0.5" transform="rotate(-111.5 61.7 321.7)"/>
<ellipse cx="65" cy="178.3" rx="4.0" ry="2.5" fill="#976726" stroke="#8f5f1f" stroke-width="0.5" transform="rotate(-94.8 65 178.3)"/>
<ellipse cx="73.3" cy="261.7" rx="4.0" ry="2.5" fill="#976726" stroke="#8f5f1f" stroke-width="0.5" transform="rotate(-91.6 73.3 261.7)"/>
<ellipse cx="74" cy="300.7" rx="4.0" ry="2.5" fill="#976726" stroke="#8f5f1f" stroke-width="0.5" transform="rotate(-74.2 74 300.7)"/>
<ellipse cx="98.3" cy="261.7" rx="4.0" ry="2.5" fill="#976726" stroke="#8f5f1f" stroke-width="0.5" transform="rotate(-92.6 98.3 261.7)"/>
<ellipse cx="102.2" cy="290" rx="4.0" ry="2.5" fill="#976726" stroke="#8f5f1f" stroke-width="0.5" transform="rotate(-48.4 102.2 290)"/>
<ellipse cx="81.9" cy="372.3" rx="4.0" ry="2.5" fill="#976726" stroke="#8f5f1f" stroke-width="0.5" transform="rotate(-45.3 81.9 372.3)"/>
<ellipse cx="79.5" cy="403.6" rx="4.0" ry="2.5" fill="#976726" stroke="#8f5f1f" stroke-width="0.5" transform="rotate(-42.6 79.5 403.6)"/>
<ellipse cx="88.3" cy="135" rx="4.0" ry="2.5" fill="#976726" stroke="#8f5f1f" stroke-width="0.5" transform="rotate(-63.2 88.3 135)"/>
<ellipse cx="94.3" cy="111.7" rx="4.0" ry="2.5" fill="#976726" stroke="#8f5f1f" stroke-width="0.5" transform="rotate(-76.5 94.3 111.7)"/>
<ellipse cx="114" cy="141.7" rx="4.0" ry="2.5" fill="#976726" stroke="#8f5f1f" stroke-width="0.5" transform="rotate(-59.7 114 141.7)"/>
<ellipse cx="155.8" cy="96.7" rx="4.0" ry="2.5" fill="#976726" stroke="#8f5f1f" stroke-width="0.5" transform="rotate(-32.3 155.8 96.7)"/>
<ellipse cx="175" cy="116.7" rx="4.0" ry="2.5" fill="#976726" stroke="#8f5f1f" stroke-width="0.5" transform="rotate(-43 175 116.7)"/>
<ellipse cx="130.8" cy="201.5" rx="4.0" ry="2.5" fill="#976726" stroke="#8f5f1f" stroke-width="0.5" transform="rotate(-49.1 130.8 201.5)"/>
<ellipse cx="205.3" cy="41.7" rx="4.0" ry="2.5" fill="#976726" stroke="#8f5f1f" stroke-width="0.5" transform="rotate(-33.7 205.3 41.7)"/>
<ellipse cx="271.7" cy="30" rx="2.4" ry="1.5" fill="#976726" stroke="#8f5f1f" stroke-width="0.5" transform="rotate(-19 271.7 30)"/>
<ellipse cx="327.5" cy="26.7" rx="2.4" ry="1.5" fill="#976726" stroke="#8f5f1f" stroke-width="0.5" transform="rotate(4.4 327.5 26.7)"/>
<ellipse cx="348.3" cy="23.3" rx="2.4" ry="1.5" fill="#976726" stroke="#8f5f1f" stroke-width="0.5" transform="rotate(-22.5 348.3 23.3)"/>
<ellipse cx="255" cy="38.3" rx="2.4" ry="1.5" fill="#976726" stroke="#8f5f1f" stroke-width="0.5" transform="rotate(8.5 255 38.3)"/>
<ellipse cx="323.3" cy="50" rx="2.4" ry="1.5" fill="#976726" stroke="#8f5f1f" stroke-width="0.5" transform="rotate(-16.4 323.3 50)"/>
<ellipse cx="371.7" cy="51.7" rx="2.4" ry="1.5" fill="#976726" stroke="#8f5f1f" stroke-width="0.5" transform="rotate(4.1 371.7 51.7)"/>
<ellipse cx="396.7" cy="50" rx="2.4" ry="1.5" fill="#976726" stroke="#8f5f1f" stroke-width="0.5" transform="rotate(-26.6 396.7 50)"/>
<ellipse cx="328.3" cy="56.7" rx="2.4" ry="1.5" fill="#976726" stroke="#8f5f1f" stroke-width="0.5" transform="rotate(7.5 328.3 56.7)"/>
<ellipse cx="259.2" cy="85.8" rx="4.0" ry="2.5" fill="#976726" stroke="#8f5f1f" stroke-width="0.5" transform="rotate(-19.4 259.2 85.8)"/>
<ellipse cx="315.8" cy="81.7" rx="2.4" ry="1.5" fill="#976726" stroke="#8f5f1f" stroke-width="0.5" transform="rotate(-18.8 315.8 81.7)"/>
<ellipse cx="339.2" cy="80.5" rx="2.4" ry="1.5" fill="#976726" stroke="#8f5f1f" stroke-width="0.5" transform="rotate(-2 339.2 80.5)"/>
<ellipse cx="281.7" cy="90" rx="2.4" ry="1.5" fill="#976726" stroke="#8f5f1f" stroke-width="0.5" transform="rotate(5.7 281.7 90)"/>
<ellipse cx="231.7" cy="99.5" rx="4.0" ry="2.5" fill="#976726" stroke="#8f5f1f" stroke-width="0.5" transform="rotate(14.3 231.7 99.5)"/>
</g>
<path d="M269.8 414.4C269.5 413.1 268.4 409.5 267.8 406.7C267.1 403.8 266.5 400.8 265.9 397.4C265.4 394 264.7 390 264.6 386.3C264.6 382.6 264.7 378.6 265.6 375.2C266.4 371.8 268.2 368.7 269.6 365.9C271.1 363.1 273.3 360.7 274.3 358.5C275.2 356.3 275 353.6 275.2 352.6C275.6 353.3 277.4 355.1 278 356.7C278.5 358.3 278.8 360.1 278.5 362.2C278.2 364.4 276.8 366.9 276.1 369.6C275.4 372.4 274.6 375.5 274.3 378.9C273.9 382.3 274.1 386.3 273.9 390C273.7 393.7 273.4 397.7 273 401.1C272.6 404.5 272 408.1 271.5 410.4C271 412.6 270.1 413.8 269.8 414.4Z" fill="#9d6d29"/>
<path d="M269.8 413 L270 425.5" stroke="#9d6d29" stroke-width="1.5" fill="none"/>
<path d="M270 425.5 Q264.6 426.5 263.2 432.6" stroke="#b89060" stroke-width="0.7" fill="none"/>
<path d="M270 425.5 Q267.5 426.5 266.9 433.5" stroke="#b89060" stroke-width="0.7" fill="none"/>
<path d="M270 425.5 Q271.9 426.5 272.4 433.5" stroke="#b89060" stroke-width="0.7" fill="none"/>
<path d="M270 425.5 Q275.6 426.5 277 431.7" stroke="#b89060" stroke-width="0.7" fill="none"/>
<g transform="translate(426.6 426.2)">
<path d="M-1.6 21 Q-3.2 26 -4.5 29.5" stroke="#7a4c14" stroke-width="0.9" fill="none"/>
<path d="M-0.6 21 Q-1.1 26 -1.5 29.5" stroke="#7a4c14" stroke-width="0.9" fill="none"/>
<path d="M0.6 21 Q1.1 26 1.5 29.5" stroke="#7a4c14" stroke-width="0.9" fill="none"/>
<path d="M1.6 21 Q3.2 26 4.5 29.5" stroke="#7a4c14" stroke-width="0.9" fill="none"/>
<path d="M0 -24.5 C9 -19 14.3 -8 14.3 1 C14.3 10 8 20 0 24 C-8 20 -14.3 10 -14.3 1 C-14.3 -8 -9 -19 0 -24.5Z" fill="#b27a33" stroke="#7a4c14" stroke-width="1"/>
<path d="M0 -24 L0 23.5 M-11.6 -10.5 L11.6 -10.5 M-14.2 1.5 L14.2 1.5 M-11.8 12.5 L11.8 12.5" stroke="#7a4c14" stroke-width="0.8" fill="none"/>
<rect x="-5.5" y="-16.5" width="2" height="2" fill="#7a4c14"/>
<rect x="3" y="-16.5" width="2" height="2" fill="#7a4c14"/>
<rect x="-7" y="-5.5" width="2" height="2" fill="#7a4c14"/>
<rect x="5" y="-5.5" width="2" height="2" fill="#7a4c14"/>
<rect x="-7" y="6" width="2" height="2" fill="#7a4c14"/>
<rect x="5" y="6" width="2" height="2" fill="#7a4c14"/>
<rect x="-5.5" y="16" width="2" height="2" fill="#7a4c14"/>
<rect x="3" y="16" width="2" height="2" fill="#7a4c14"/>
</g>
<circle cx="565.4" cy="417.2" r="11.4" fill="#a8742d" stroke="#7a4c14" stroke-width="0.8"/>
<circle cx="565.4" cy="417.2" r="8.6" fill="#b17b33" stroke="#8a5a1c" stroke-width="0.8"/>
<circle cx="565.4" cy="417.2" r="4.8" fill="#7b4a12"/>
<path d="M518.7 370.7C518.5 369.7 517.6 366.7 517.3 364.6C516.9 362.5 517 359.8 516.6 358C516.2 356.2 514.8 355.3 514.6 354C514.4 352.7 515.6 351.4 515.2 350C514.9 348.6 513 346.8 512.5 345.5C512 344.2 512.2 342.6 512.2 342" fill="none" stroke="#9a9a9a" stroke-width="0.7"/>
<path d="M518.7 370.7 L517.3 364.6" stroke="#b86a5a" stroke-width="1.4" fill="none"/>
<circle cx="518.7" cy="370.7" r="2.2" fill="#ececec" stroke="#a8a8a8" stroke-width="0.6"/>
<path d="M535.6 366.7C535.1 365.7 533.4 362.5 532.6 360.5C531.8 358.5 531.3 356.2 531 354.5C530.7 352.8 531.5 351.5 530.8 350.5C530.1 349.5 527.8 349.2 527 348.3C526.2 347.4 526.4 346.2 526 345C525.6 343.8 524.7 341.7 524.4 341" fill="none" stroke="#9a9a9a" stroke-width="0.7"/>
<path d="M535.6 366.7 L532.6 360.5" stroke="#b86a5a" stroke-width="1.4" fill="none"/>
<circle cx="535.6" cy="366.7" r="2.2" fill="#ececec" stroke="#a8a8a8" stroke-width="0.6"/>
<path d="M553 406.4C552.3 405.2 550.1 401.3 548.9 399.2C547.6 397.1 546.4 395.5 545.5 394C544.6 392.5 544.6 390.9 543.5 390C542.4 389.1 540 389.3 539 388.5C538 387.7 538.1 386.4 537.5 385C536.9 383.6 535.9 380.8 535.6 380" fill="none" stroke="#9a9a9a" stroke-width="0.7"/>
<path d="M553 406.4 L548.9 399.2" stroke="#b86a5a" stroke-width="1.4" fill="none"/>
<circle cx="553" cy="406.4" r="2.2" fill="#ececec" stroke="#a8a8a8" stroke-width="0.6"/>
<path d="M506.3 253C509.5 255.8 522.4 267.2 525.6 270" fill="none" stroke="#8e5c1c" stroke-width="4.2" stroke-linecap="round"/>
<path d="M506.3 253C509.5 255.8 522.4 267.2 525.6 270" fill="none" stroke="#b47a30" stroke-width="3.3" stroke-linecap="round"/>
<path d="M506.3 253C509.5 255.8 522.4 267.2 525.6 270" fill="none" stroke="#8a5818" stroke-width="1" stroke-dasharray="1 3.2" stroke-linecap="butt"/>
<path d="M510.7 273.7C514.6 273 530.4 270 534.4 269.3" fill="none" stroke="#8e5c1c" stroke-width="4.2" stroke-linecap="round"/>
<path d="M510.7 273.7C514.6 273 530.4 270 534.4 269.3" fill="none" stroke="#b47a30" stroke-width="3.3" stroke-linecap="round"/>
<path d="M510.7 273.7C514.6 273 530.4 270 534.4 269.3" fill="none" stroke="#8a5818" stroke-width="1" stroke-dasharray="1 3.2" stroke-linecap="butt"/>
<path d="M541.9 258.9C543.9 259.8 551.7 263.2 553.7 264.1" fill="none" stroke="#8e5c1c" stroke-width="4.2" stroke-linecap="round"/>
<path d="M541.9 258.9C543.9 259.8 551.7 263.2 553.7 264.1" fill="none" stroke="#b47a30" stroke-width="3.3" stroke-linecap="round"/>
<path d="M541.9 258.9C543.9 259.8 551.7 263.2 553.7 264.1" fill="none" stroke="#8a5818" stroke-width="1" stroke-dasharray="1 3.2" stroke-linecap="butt"/>
<path d="M545.6 248.5C544.7 250.2 541.6 255.7 540 259C538.4 262.3 536.9 263.9 535.9 268.5C534.9 273.1 534.1 280.5 534.2 286.3C534.3 292.1 536.3 300.5 536.7 303.3" fill="none" stroke="#8e5c1c" stroke-width="4.2" stroke-linecap="round"/>
<path d="M545.6 248.5C544.7 250.2 541.6 255.7 540 259C538.4 262.3 536.9 263.9 535.9 268.5C534.9 273.1 534.1 280.5 534.2 286.3C534.3 292.1 536.3 300.5 536.7 303.3" fill="none" stroke="#b47a30" stroke-width="3.3" stroke-linecap="round"/>
<path d="M545.6 248.5C544.7 250.2 541.6 255.7 540 259C538.4 262.3 536.9 263.9 535.9 268.5C534.9 273.1 534.1 280.5 534.2 286.3C534.3 292.1 536.3 300.5 536.7 303.3" fill="none" stroke="#8a5818" stroke-width="1" stroke-dasharray="1 3.2" stroke-linecap="butt"/>
<path d="M642.2 270.7C642.3 273 642.4 280.7 642.7 284.4C642.9 288.2 645.7 290.1 643.6 293.3C641.4 296.6 632.3 302.2 630 304" fill="none" stroke="#8a5818" stroke-width="7.8" stroke-linecap="round" stroke-linejoin="round"/>
<path d="M626.7 272.7C629.3 274.8 639.6 283.4 642.2 285.6" fill="none" stroke="#8a5818" stroke-width="7.8" stroke-linecap="round" stroke-linejoin="round"/>
<path d="M665.1 279.1C661.7 281.3 647.9 290 644.4 292.2" fill="none" stroke="#8a5818" stroke-width="7.8" stroke-linecap="round" stroke-linejoin="round"/>
<path d="M642.2 270.7C642.3 273 642.4 280.7 642.7 284.4C642.9 288.2 645.7 290.1 643.6 293.3C641.4 296.6 632.3 302.2 630 304" fill="none" stroke="#b8833c" stroke-width="6.8" stroke-linecap="round" stroke-linejoin="round"/>
<path d="M626.7 272.7C629.3 274.8 639.6 283.4 642.2 285.6" fill="none" stroke="#b8833c" stroke-width="6.8" stroke-linecap="round" stroke-linejoin="round"/>
<path d="M665.1 279.1C661.7 281.3 647.9 290 644.4 292.2" fill="none" stroke="#b8833c" stroke-width="6.8" stroke-linecap="round" stroke-linejoin="round"/>
<path d="M642.2 270.7C642.3 273 642.4 280.7 642.7 284.4C642.9 288.2 645.7 290.1 643.6 293.3C641.4 296.6 632.3 302.2 630 304" fill="none" stroke="#8a5818" stroke-width="1.3" stroke-dasharray="1.3 3.6"/>
<path d="M626.7 272.7C629.3 274.8 639.6 283.4 642.2 285.6" fill="none" stroke="#8a5818" stroke-width="1.3" stroke-dasharray="1.3 3.6"/>
<path d="M665.1 279.1C661.7 281.3 647.9 290 644.4 292.2" fill="none" stroke="#8a5818" stroke-width="1.3" stroke-dasharray="1.3 3.6"/>
<circle cx="642.2" cy="261.2" r="9.8" fill="#b47a30" stroke="#7d5216" stroke-width="0.9"/>
<circle cx="642.2" cy="261.2" r="7" fill="#a86f28" stroke="#8a5a1c" stroke-width="0.6"/>
<circle cx="641.5" cy="261.5" r="4.3" fill="#7b4a12"/>
<path d="M615.9 63.3 C614.7 59.8 610.2 59.5 609.3 56.5" fill="none" stroke="#a07038" stroke-width="0.7" stroke-opacity="0.85"/>
<path d="M615.9 63.3 C612.9 64.5 610.5 61.1 607.9 62.2" fill="none" stroke="#a07038" stroke-width="0.7" stroke-opacity="0.85"/>
<ellipse cx="618.7" cy="65" rx="3.8" ry="2.3" fill="#b3742c" stroke="#8f5d1d" stroke-width="0.5" transform="rotate(-149.7 618.7 65)"/>
<path d="M596.2 73.7 C596.5 70.1 592.5 68 592.8 64.9" fill="none" stroke="#a07038" stroke-width="0.7" stroke-opacity="0.85"/>
<path d="M596.2 73.7 C595.5 70.6 599.2 68.8 598.6 66.1" fill="none" stroke="#a07038" stroke-width="0.7" stroke-opacity="0.85"/>
<ellipse cx="596.5" cy="77" rx="3.8" ry="2.3" fill="#b3742c" stroke="#8f5d1d" stroke-width="0.5" transform="rotate(-94.8 596.5 77)"/>
<path d="M609.8 81.3 C607.2 83.9 609 88 606.8 90.2" fill="none" stroke="#a07038" stroke-width="0.7" stroke-opacity="0.85"/>
<path d="M609.8 81.3 C612.3 83.4 610.3 87 612.5 88.8" fill="none" stroke="#a07038" stroke-width="0.7" stroke-opacity="0.85"/>
<ellipse cx="610" cy="78" rx="3.8" ry="2.3" fill="#b3742c" stroke="#8f5d1d" stroke-width="0.5" transform="rotate(92.9 610 78)"/>
<path d="M631.2 78.1 C627.8 76.7 624.7 79.9 621.7 78.6" fill="none" stroke="#a07038" stroke-width="0.7" stroke-opacity="0.85"/>
<path d="M631.2 78.1 C628 77.9 627.4 73.8 624.7 73.6" fill="none" stroke="#a07038" stroke-width="0.7" stroke-opacity="0.85"/>
<ellipse cx="634.4" cy="78.9" rx="3.8" ry="2.3" fill="#b3742c" stroke="#8f5d1d" stroke-width="0.5" transform="rotate(-167 634.4 78.9)"/>
<path d="M637.2 93.3 C634.5 95.7 635.9 100 633.6 102" fill="none" stroke="#a07038" stroke-width="0.7" stroke-opacity="0.85"/>
<path d="M637.2 93.3 C639.5 95.6 637.3 99 639.3 101" fill="none" stroke="#a07038" stroke-width="0.7" stroke-opacity="0.85"/>
<ellipse cx="637.6" cy="90" rx="3.8" ry="2.3" fill="#b3742c" stroke="#8f5d1d" stroke-width="0.5" transform="rotate(96.7 637.6 90)"/>
<path d="M596.1 94.6 C594.8 91.1 590.4 91 589.3 88" fill="none" stroke="#a07038" stroke-width="0.7" stroke-opacity="0.85"/>
<path d="M596.1 94.6 C594.1 92 596.7 88.8 595 86.6" fill="none" stroke="#a07038" stroke-width="0.7" stroke-opacity="0.85"/>
<ellipse cx="597.8" cy="97.4" rx="3.8" ry="2.3" fill="#b3742c" stroke="#8f5d1d" stroke-width="0.5" transform="rotate(-120.2 597.8 97.4)"/>
<path d="M625.1 97.8 C623.5 101.1 626.4 104.5 625 107.3" fill="none" stroke="#a07038" stroke-width="0.7" stroke-opacity="0.85"/>
<path d="M625.1 97.8 C628.1 99.1 627.4 103.1 630 104.2" fill="none" stroke="#a07038" stroke-width="0.7" stroke-opacity="0.85"/>
<ellipse cx="624.3" cy="94.6" rx="3.8" ry="2.3" fill="#b3742c" stroke="#8f5d1d" stroke-width="0.5" transform="rotate(74.7 624.3 94.6)"/>
<path d="M613.9 101.9 C614.7 98.3 611.1 95.8 611.8 92.7" fill="none" stroke="#a07038" stroke-width="0.7" stroke-opacity="0.85"/>
<path d="M613.9 101.9 C610.8 101.4 610.5 97.3 607.7 96.9" fill="none" stroke="#a07038" stroke-width="0.7" stroke-opacity="0.85"/>
<ellipse cx="615.6" cy="104.8" rx="3.8" ry="2.3" fill="#b3742c" stroke="#8f5d1d" stroke-width="0.5" transform="rotate(-119.2 615.6 104.8)"/>
<path d="M605.9 112.7 C602.8 110.7 599.1 113.2 596.5 111.5" fill="none" stroke="#a07038" stroke-width="0.7" stroke-opacity="0.85"/>
<path d="M605.9 112.7 C602.8 111.9 603 107.8 600.3 107" fill="none" stroke="#a07038" stroke-width="0.7" stroke-opacity="0.85"/>
<ellipse cx="608.9" cy="114.1" rx="3.8" ry="2.3" fill="#b3742c" stroke="#8f5d1d" stroke-width="0.5" transform="rotate(-156.3 608.9 114.1)"/>
<path d="M631 113.9 C629.1 110.7 624.7 111.3 623.2 108.5" fill="none" stroke="#a07038" stroke-width="0.7" stroke-opacity="0.85"/>
<path d="M631 113.9 C628.2 115.7 625.3 112.8 623 114.3" fill="none" stroke="#a07038" stroke-width="0.7" stroke-opacity="0.85"/>
<ellipse cx="634.1" cy="115" rx="3.8" ry="2.3" fill="#b3742c" stroke="#8f5d1d" stroke-width="0.5" transform="rotate(-161 634.1 115)"/>
<g opacity="0.999">
<text x="68.2" y="483" font-size="12.5" fill="#444444" text-anchor="middle" textLength="39" lengthAdjust="spacingAndGlyphs">Mature</text>
<text x="66.5" y="497.8" font-size="12.5" fill="#444444" text-anchor="middle" textLength="63.8" lengthAdjust="spacingAndGlyphs">Sporophyte</text>
<text x="270.3" y="452.8" font-size="12.5" fill="#444444" text-anchor="middle" textLength="46.8" lengthAdjust="spacingAndGlyphs">Juvenile</text>
<text x="270.1" y="467.6" font-size="12.5" fill="#444444" text-anchor="middle" textLength="64.4" lengthAdjust="spacingAndGlyphs">Sporophyte</text>
<text x="426" y="475.9" font-size="12.5" fill="#444444" text-anchor="middle" textLength="69" lengthAdjust="spacingAndGlyphs">Microscopic</text>
<text x="426.2" y="490.3" font-size="12.5" fill="#444444" text-anchor="middle" textLength="63.3" lengthAdjust="spacingAndGlyphs">sporophyte</text>
<text x="594.3" y="482.5" font-size="15.4" fill="#9b6a1e" text-anchor="middle" textLength="131.3" lengthAdjust="spacingAndGlyphs">Microscopic stages</text>
<text x="480.1" y="347" font-size="12.5" fill="#444444" text-anchor="middle" textLength="36.2" lengthAdjust="spacingAndGlyphs">Sperm</text>
<text x="520.9" y="414.8" font-size="12.5" fill="#444444" text-anchor="middle" textLength="21" lengthAdjust="spacingAndGlyphs">Egg</text>
<text x="568" y="117.5" font-size="12.5" fill="#444444" text-anchor="middle" textLength="39" lengthAdjust="spacingAndGlyphs">Spores</text>
<text x="492.6" y="224.7" font-size="12.5" fill="#444444" text-anchor="middle" textLength="26.6" lengthAdjust="spacingAndGlyphs">Male</text>
<text x="490.7" y="240.4" font-size="12.5" fill="#444444" text-anchor="middle" textLength="73.7" lengthAdjust="spacingAndGlyphs">gametophyte</text>
<text x="703.3" y="241.8" font-size="12.5" fill="#444444" text-anchor="middle" textLength="40" lengthAdjust="spacingAndGlyphs">Female</text>
<text x="701.9" y="256.7" font-size="12.5" fill="#444444" text-anchor="middle" textLength="72.6" lengthAdjust="spacingAndGlyphs">gametophyte</text>
</g>
</svg>
</body>
</html>
